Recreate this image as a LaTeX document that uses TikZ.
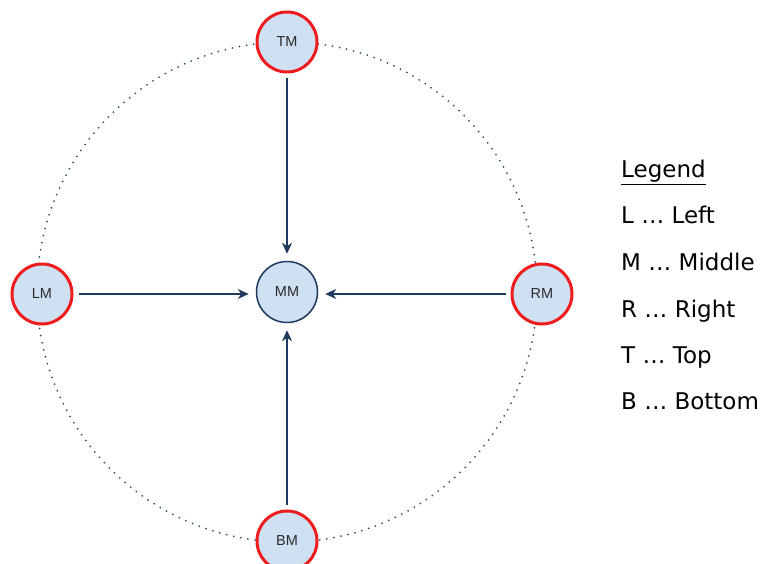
\documentclass[tikz,border=0pt]{standalone}
\usepackage{fontspec}
\setmainfont{Liberation Sans}
\newfontfamily\legendfont{DejaVu Sans}
\usetikzlibrary{arrows.meta}
\definecolor{navy}{HTML}{1F3A5F}
\definecolor{nodefill}{HTML}{CFE0F2}
\definecolor{ringred}{HTML}{EE1C1C}
\definecolor{labelgrey}{HTML}{2A2A2A}
\begin{document}
\begin{tikzpicture}[x=1pt,y=-1pt,
  outer/.style={circle, minimum size=60pt, inner sep=0pt, fill=nodefill, draw=ringred, line width=3pt,
    font=\fontsize{14.5}{14.5}\selectfont, text=labelgrey},
  center/.style={circle, minimum size=61pt, inner sep=0pt, fill=nodefill, draw=navy, line width=1.5pt,
    font=\fontsize{14.5}{14.5}\selectfont, text=labelgrey},
  flow/.style={draw=navy, line width=2pt, -{Stealth[length=11pt,width=10pt]}, shorten >=7pt, shorten <=5pt},
  legendline/.style={anchor=base west, font=\legendfont\fontsize{23}{23}\selectfont, text=black, inner sep=0pt}
]
\useasboundingbox (0,0) rectangle (761,564);
% dotted orbit through the four outer nodes
\draw[navy!90, line width=2pt, dash pattern=on 0pt off 7.2pt, line cap=round] (287,292) circle[radius=250];
% nodes
\node[center] (MM) at (287,292) {MM};
\node[outer] (TM) at (287,42) {TM};
\node[outer] (BM) at (287,541) {BM};
\node[outer] (LM) at (42,294) {LM};
\node[outer] (RM) at (542,294) {RM};
% connectors
\draw[flow] (TM) -- (MM);
\draw[flow] (BM) -- (MM);
\draw[flow] (LM) -- (LM -| MM.west);
\draw[flow] (RM) -- (RM -| MM.east);
% legend
\node[legendline] (lg) at (621,178) {\underline{Legend}};
\node[legendline] (l1) at (621,224) {L … Left};
\node[legendline] (l2) at (621,271) {M … Middle};
\node[legendline] (l3) at (621,317) {R … Right};
\node[legendline] (l4) at (621,363) {T … Top};
\node[legendline] (l5) at (621,409) {B … Bottom};
\end{tikzpicture}
\end{document}
